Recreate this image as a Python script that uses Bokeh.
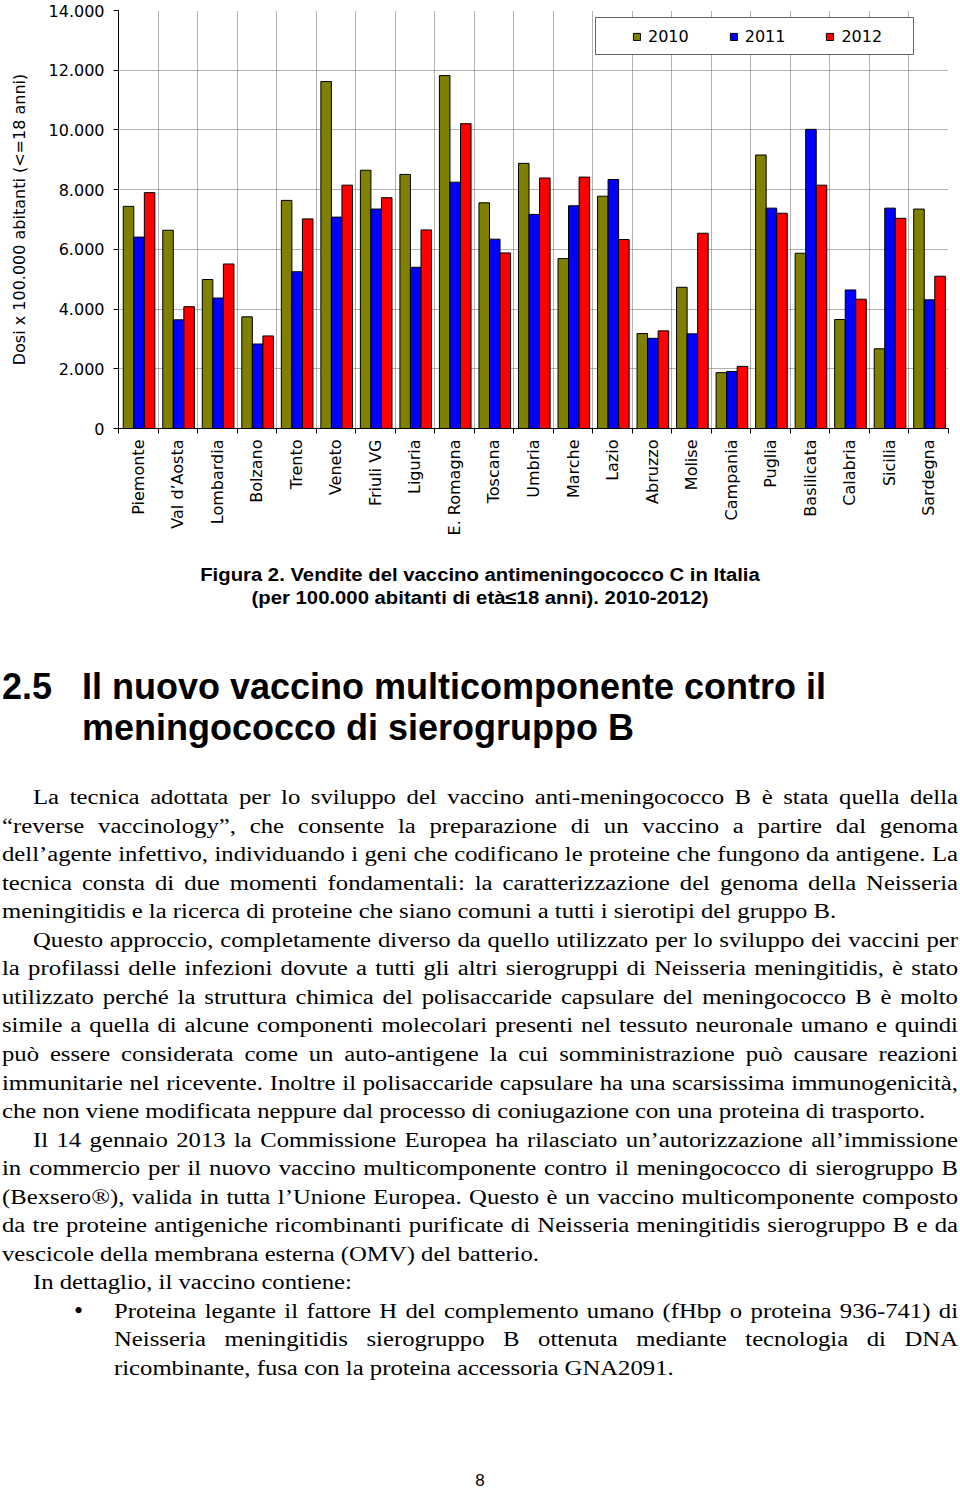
import html
import math
from bokeh.plotting import figure
from bokeh.models import (ColumnDataSource, Range1d, FixedTicker, Legend, LegendItem,
                          BoxAnnotation, Div)
from bokeh.transform import dodge
from bokeh.layouts import column
from bokeh.embed import file_html
from bokeh.resources import INLINE

# ---------------- data ----------------
regions = ["Piemonte", "Val d’Aosta", "Lombardia", "Bolzano", "Trento", "Veneto",
           "Friuli VG", "Liguria", "E. Romagna", "Toscana", "Umbria", "Marche",
           "Lazio", "Abruzzo", "Molise", "Campania", "Puglia", "Basilicata",
           "Calabria", "Sicilia", "Sardegna"]
v2010 = [7440, 6640, 4990, 3740, 7640, 11620, 8650, 8510, 11820, 7560, 8880,
         5690, 7780, 3180, 4730, 1870, 9160, 5870, 3650, 2670, 7350]
v2011 = [6410, 3640, 4370, 2830, 5250, 7080, 7350, 5400, 8250, 6340, 7170,
         7460, 8340, 3020, 3170, 1910, 7380, 10020, 4640, 7380, 4310]
v2012 = [7900, 4080, 5510, 3100, 7020, 8150, 7730, 6650, 10210, 5880, 8390,
         8420, 6330, 3270, 6540, 2080, 7210, 8150, 4330, 7040, 5100]
years = ["2010", "2011", "2012"]
series_cols = ["y2010", "y2011", "y2012"]
colors = ["#808000", "#0000FF", "#FF0000"]
y_ticks = [0, 2000, 4000, 6000, 8000, 10000, 12000, 14000]
y_tick_labels = ["0", "2.000", "4.000", "6.000", "8.000", "10.000", "12.000", "14.000"]
y_title = "Dosi x 100.000 abitanti (<=18 anni)"

caption_lines = ["Figura 2. Vendite del vaccino antimeningococco C in Italia",
                 "(per 100.000 abitanti di età≤18 anni). 2010-2012)"]
heading_num = "2.5"
heading_lines = ["Il nuovo vaccino multicomponente contro il",
                 "meningococco di sierogruppo B"]
# (text, kind, justified)
body_lines = [
    ("La tecnica adottata per lo sviluppo del vaccino anti-meningococco B è stata quella della", "indent", True),
    ("“reverse vaccinology”, che consente la preparazione di un vaccino a partire dal genoma", "normal", True),
    ("dell’agente infettivo, individuando i geni che codificano le proteine che fungono da antigene. La", "normal", True),
    ("tecnica consta di due momenti fondamentali: la caratterizzazione del genoma della Neisseria", "normal", True),
    ("meningitidis e la ricerca di proteine che siano comuni a tutti i sierotipi del gruppo B.", "normal", False),
    ("Questo approccio, completamente diverso da quello utilizzato per lo sviluppo dei vaccini per", "indent", True),
    ("la profilassi delle infezioni dovute a tutti gli altri sierogruppi di Neisseria meningitidis, è stato", "normal", True),
    ("utilizzato perché la struttura chimica del polisaccaride capsulare del meningococco B è molto", "normal", True),
    ("simile a quella di alcune componenti molecolari presenti nel tessuto neuronale umano e quindi", "normal", True),
    ("può essere considerata come un auto-antigene la cui somministrazione può causare reazioni", "normal", True),
    ("immunitarie nel ricevente. Inoltre il polisaccaride capsulare ha una scarsissima immunogenicità,", "normal", True),
    ("che non viene modificata neppure dal processo di coniugazione con una proteina di trasporto.", "normal", False),
    ("Il 14 gennaio 2013 la Commissione Europea ha rilasciato un’autorizzazione all’immissione", "indent", True),
    ("in commercio per il nuovo vaccino multicomponente contro il meningococco di sierogruppo B", "normal", True),
    ("(Bexsero®), valida in tutta l’Unione Europea. Questo è un vaccino multicomponente composto", "normal", True),
    ("da tre proteine antigeniche ricombinanti purificate di Neisseria meningitidis sierogruppo B e da", "normal", True),
    ("vescicole della membrana esterna (OMV) del batterio.", "normal", False),
    ("In dettaglio, il vaccino contiene:", "indent", False),
    ("Proteina legante il fattore H del complemento umano (fHbp o proteina 936-741) di", "bullet", True),
    ("Neisseria meningitidis sierogruppo B ottenuta mediante tecnologia di DNA", "bullet", True),
    ("ricombinante, fusa con la proteina accessoria GNA2091.", "bullet", False),
]
page_number = "8"

# ---------------- chart ----------------
n = len(regions)
centers = [i + 0.5 for i in range(n)]
src = ColumnDataSource(dict(x=centers, y2010=v2010, y2011=v2011, y2012=v2012))

W, H = 960, 548
p = figure(width=W, height=H, x_range=Range1d(0, n), y_range=Range1d(0, 14000),
           output_backend="svg", toolbar_location=None,
           min_border_left=118, min_border_right=12, min_border_top=10,
           min_border_bottom=120)
p.outline_line_color = None
p.background_fill_color = "white"
p.border_fill_color = "white"

bw = 0.2667
rends = []
for k, (col, c) in enumerate(zip(series_cols, colors)):
    r = p.vbar(x=dodge("x", (k - 1) * bw + 0.02, range=p.x_range), top=col, width=bw,
               source=src, fill_color=c, line_color="black", line_width=1)
    rends.append(r)

xa = p.xaxis[0]
xa.ticker = FixedTicker(ticks=centers, minor_ticks=list(range(n + 1)))
xa.major_label_overrides = {c: r for c, r in zip(centers, regions)}
xa.major_label_orientation = math.pi / 2
xa.major_tick_out = 0
xa.major_tick_in = 0
xa.minor_tick_out = 5
xa.minor_tick_in = 0
xa.minor_tick_line_color = "black"
xa.axis_line_color = "black"
xa.major_label_text_font = "DejaVu Sans"
xa.major_label_text_font_size = "16px"
xa.major_label_text_color = "black"
xa.major_label_standoff = 6

ya = p.yaxis[0]
ya.ticker = FixedTicker(ticks=y_ticks)
ya.major_label_overrides = dict(zip(y_ticks, y_tick_labels))
ya.major_tick_out = 5
ya.major_tick_in = 0
ya.major_tick_line_color = "black"
ya.minor_tick_line_color = None
ya.axis_line_color = "black"
ya.major_label_text_font = "DejaVu Sans"
ya.major_label_text_font_size = "16px"
ya.major_label_text_color = "black"
ya.major_label_standoff = 9
ya.axis_label = y_title
ya.axis_label_text_font = "DejaVu Sans"
ya.axis_label_text_font_size = "16px"
ya.axis_label_text_font_style = "normal"
ya.axis_label_text_color = "black"
ya.axis_label_standoff = 17

p.xgrid.ticker = FixedTicker(ticks=list(range(n + 1)))
for g in (p.xgrid[0], p.ygrid[0]):
    g.grid_line_color = "#666666"
    g.grid_line_dash = "1 1"
    g.grid_line_width = 1

box = BoxAnnotation(left=477, right=795, top=411, bottom=374,
                    left_units="screen", right_units="screen",
                    top_units="screen", bottom_units="screen",
                    fill_color="white", fill_alpha=1.0,
                    line_color="#666666", line_alpha=1.0, line_width=1,
                    line_dash="solid")
p.add_layout(box)

legend = Legend(items=[LegendItem(label=y, renderers=[r]) for y, r in zip(years, rends)],
                orientation="horizontal", location=(514, 382), padding=5, spacing=40,
                glyph_width=9, glyph_height=9, label_standoff=7,
                label_text_font="DejaVu Sans", label_text_font_size="16px",
                label_text_color="black",
                background_fill_alpha=0, border_line_color=None, margin=0)
p.add_layout(legend, "center")

# ---------------- text below ----------------
OFF = H
def absdiv(text, left, top, width, font, size, weight="normal", lh=None, align="left",
           extra=""):
    lh = lh if lh is not None else size * 1.2
    return (f'<div style="position:absolute;left:{left}px;top:{top - OFF:.2f}px;width:{width:.2f}px;'
            f'font-family:\'{font}\';font-size:{size}px;font-weight:{weight};line-height:{lh}px;'
            f'text-align:{align};color:black;white-space:nowrap;{extra}">{html.escape(text)}</div>')

parts = []
SC = 1.128
cap_tops = [564, 587]
for t, top in zip(caption_lines, cap_tops):
    parts.append(absdiv(t, 0, top, 960, "Liberation Sans", 18, "bold", 23, "center",
                        f"transform:scaleX({SC});transform-origin:480px 0;"))

head_tops = [666, 707]
parts.append(absdiv(heading_num, 2, head_tops[0], 80, "Liberation Sans", 36, "bold", 41))
for t, top in zip(heading_lines, head_tops):
    parts.append(absdiv(t, 82, top, 870, "Liberation Sans", 36, "bold", 41))

lefts = {"normal": 2, "indent": 33, "bullet": 114}
RIGHT = 958
LH = 28.55
SB = 1.235
for i, (t, kind, just) in enumerate(body_lines):
    top = 783 + i * LH
    L = lefts[kind]
    extra = f"transform:scaleX({SB});transform-origin:0 0;"
    if just:
        extra += "text-align-last:justify;white-space:normal;"
    parts.append(absdiv(t, L, top, (RIGHT - L) / SB, "Liberation Serif", 20, "normal", LH,
                        "justify" if just else "left", extra))
    if kind == "bullet" and i == 18:
        parts.append(absdiv("•", 74, top, 20, "Liberation Serif", 26, "normal", LH))

parts.append(absdiv(page_number, 0, 1472, 960, "Liberation Sans", 17, "normal", 17, "center"))

div_h = 1496 - H
div = Div(text=f'<div style="position:relative;width:960px;height:{div_h}px;">' + "".join(parts) + "</div>",
          width=960, height=div_h, margin=0)

layout = column(p, div, spacing=0)
open("out.html", "w").write(file_html(layout, INLINE))
